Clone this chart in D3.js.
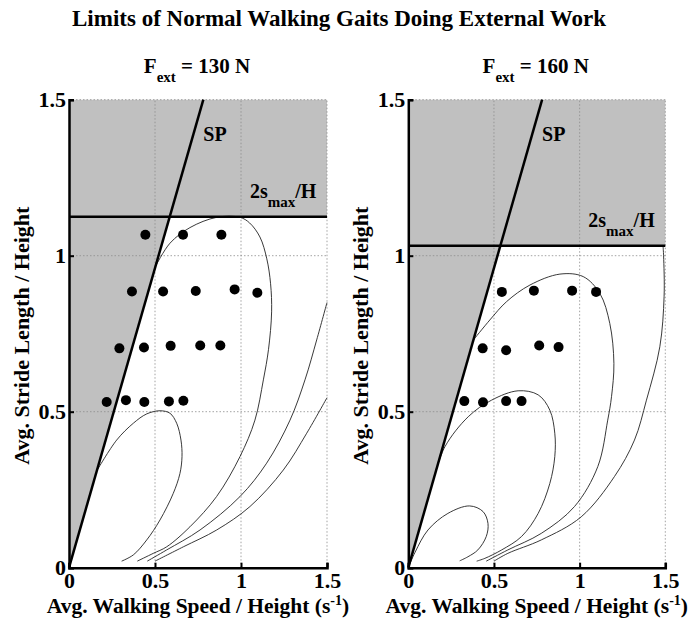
<!DOCTYPE html>
<html>
<head>
<meta charset="utf-8">
<script src="https://cdn.jsdelivr.net/npm/d3@7"></script>
<style>
  body { margin: 0; background: #fff; }
  svg { display: block; }
  text { font-family: "Liberation Serif", "Times New Roman", serif; font-weight: bold; fill: #000; }
</style>
</head>
<body>
<svg width="689" height="629"></svg>
<script>
// ---- data ----
var panels = ["130", "160"];
var tickVals = [0, 0.5, 1, 1.5];
var tickLabels = ["0", "0.5", "1", "1.5"];
var spTop = [0.781, 0.781];          // x where SP line hits 1.5
var smaxLevel = [1.125, 1.032];      // 2smax/H

var dotsLeft = [
  [0.444, 1.067], [0.663, 1.067], [0.886, 1.067],
  [0.366, 0.885], [0.547, 0.885], [0.737, 0.887], [0.963, 0.892], [1.095, 0.881],
  [0.293, 0.703], [0.436, 0.706], [0.591, 0.711], [0.763, 0.712], [0.880, 0.712],
  [0.219, 0.531], [0.331, 0.537], [0.438, 0.531], [0.581, 0.533], [0.665, 0.535]
];
var dotsRight = [
  [0.546, 0.884], [0.733, 0.888], [0.956, 0.888], [1.096, 0.884],
  [0.434, 0.703], [0.571, 0.697], [0.764, 0.712], [0.877, 0.707],
  [0.327, 0.534], [0.436, 0.530], [0.571, 0.534], [0.661, 0.534]
];

var curvesLeft = [
  [[0.306,0.021],[0.374,0.041],[0.452,0.089],[0.529,0.153],[0.606,0.238],[0.645,0.302],[0.657,0.356],
   [0.651,0.409],[0.626,0.463],[0.587,0.495],[0.529,0.503],[0.452,0.493],[0.374,0.463],[0.277,0.409],[0.161,0.31]],
  [[0.397,0.021],[0.49,0.046],[0.568,0.067],[0.703,0.131],[0.858,0.228],[0.994,0.356],[1.081,0.473],
   [1.13,0.602],[1.16,0.7],[1.178,0.82],[1.172,0.91],[1.15,0.99],[1.11,1.06],[1.05,1.105],[0.994,1.123],
   [0.859,1.123],[0.703,1.09],[0.587,1.04],[0.502,0.965]],
  [[0.455,0.021],[0.568,0.057],[0.762,0.121],[0.994,0.228],[1.149,0.335],[1.285,0.473],[1.372,0.602],
   [1.44,0.73],[1.5,0.85]],
  [[0.5,0.021],[0.665,0.067],[0.859,0.121],[1.052,0.196],[1.246,0.313],[1.382,0.431],[1.5,0.545]]
];
var curvesRight = [
  [[0.3,0.022],[0.348,0.035],[0.406,0.057],[0.455,0.1],[0.465,0.142],[0.436,0.18],[0.358,0.198],
   [0.231,0.174],[0.115,0.121],[0.04,0.05],[0,0]],
  [[0.399,0.021],[0.447,0.03],[0.545,0.057],[0.661,0.1],[0.758,0.174],[0.826,0.27],[0.855,0.356],
   [0.855,0.431],[0.826,0.505],[0.758,0.554],[0.641,0.567],[0.486,0.537],[0.35,0.484],[0.214,0.388],[0.156,0.3]],
  [[0.455,0.021],[0.581,0.057],[0.776,0.11],[0.97,0.196],[1.106,0.324],[1.164,0.473],[1.186,0.548],
   [1.2,0.655],[1.176,0.783],[1.118,0.879],[1.021,0.933],[0.885,0.941],[0.71,0.906],[0.574,0.853],
   [0.476,0.794],[0.38,0.73]],
  [[0.5,0.021],[0.581,0.046],[0.776,0.089],[1.009,0.163],[1.203,0.292],[1.32,0.409],[1.39,0.537],
   [1.468,0.708],[1.493,0.87],[1.49,1.0],[1.487,1.03]]
];

var svg = d3.select("svg");

svg.append("text").attr("x", 339).attr("y", 26).attr("text-anchor", "middle")
  .style("font-size", "23px").text("Limits of Normal Walking Gaits Doing External Work");

var layout = [
  { left: 69, width: 258, dots: dotsLeft, curves: curvesLeft },
  { left: 408.3, width: 257, dots: dotsRight, curves: curvesRight }
];
var plotTop = 99.7, plotH = 468;

layout.forEach(function (p, i) {
  var g = svg.append("g").attr("transform", "translate(" + p.left + "," + plotTop + ")");
  var x = d3.scaleLinear().domain([0, 1.5]).range([0, p.width]);
  var y = d3.scaleLinear().domain([0, 1.5]).range([plotH, 0]);
  var lv = smaxLevel[i], slope = 1.5 / spTop[i];

  // grey forbidden region
  var region = [[0, 0], [lv / slope, lv], [1.5, lv], [1.5, 1.5], [0, 1.5]];
  g.append("polygon")
    .attr("points", region.map(function (d) { return x(d[0]) + "," + y(d[1]); }).join(" "))
    .attr("fill", "#c0c0c0");

  // dotted grid
  [0.5, 1, 1.5].forEach(function (v) {
    g.append("line").attr("x1", x(v)).attr("x2", x(v)).attr("y1", y(0)).attr("y2", y(1.5))
      .attr("stroke", "#8c8c8c").attr("stroke-width", 0.8).attr("stroke-dasharray", "1.5,2");
    g.append("line").attr("x1", x(0)).attr("x2", x(1.5)).attr("y1", y(v)).attr("y2", y(v))
      .attr("stroke", "#8c8c8c").attr("stroke-width", 0.8).attr("stroke-dasharray", "1.5,2");
  });

  // contour curves
  var line = d3.line().x(function (d) { return x(d[0]); }).y(function (d) { return y(d[1]); })
    .curve(d3.curveCatmullRom.alpha(0.5));
  g.selectAll("path.curve").data(p.curves).enter().append("path").attr("class", "curve")
    .attr("d", line).attr("fill", "none").attr("stroke", "#222").attr("stroke-width", 0.9);

  // limit lines
  g.append("line").attr("x1", x(0)).attr("y1", y(lv)).attr("x2", x(1.5)).attr("y2", y(lv))
    .attr("stroke", "#000").attr("stroke-width", 2.5);
  g.append("line").attr("x1", x(0)).attr("y1", y(0)).attr("x2", x(spTop[i])).attr("y2", y(1.5))
    .attr("stroke", "#000").attr("stroke-width", 2.5);

  // data points
  g.selectAll("circle").data(p.dots).enter().append("circle")
    .attr("cx", function (d) { return x(d[0]); }).attr("cy", function (d) { return y(d[1]); })
    .attr("r", 5).attr("fill", "#000");

  // axes
  var xa = g.append("g").attr("transform", "translate(0," + plotH + ")")
    .call(d3.axisBottom(x).tickValues(tickVals).tickFormat(function (d, k) { return tickLabels[k]; })
      .tickSize(-5).tickPadding(5));
  var ya = g.append("g")
    .call(d3.axisLeft(y).tickValues(tickVals).tickFormat(function (d, k) { return tickLabels[k]; })
      .tickSize(-5).tickPadding(3));
  [xa, ya].forEach(function (a) {
    a.select(".domain").attr("stroke", "#000").attr("stroke-width", 2.5);
    a.selectAll(".tick line").attr("stroke", "#000").attr("stroke-width", 2);
    a.selectAll(".tick text").style("font-size", "22px").attr("font-family", null);
  });

  // labels in plot
  g.append("text").attr("x", x(spTop[i])).attr("y", y(1.5) + 41).style("font-size", "20px").text("SP");
  var sm = g.append("text").attr("x", p.width - 77).attr("y", y(lv) - 19).style("font-size", "20px");
  sm.append("tspan").text("2s");
  sm.append("tspan").attr("dy", 9).style("font-size", "15px").text("max");
  sm.append("tspan").attr("dy", -9).text("/H");

  // titles
  var t = g.append("text").attr("x", p.width / 2 - 1).attr("y", 73 - plotTop).attr("text-anchor", "middle")
    .style("font-size", "21px");
  t.append("tspan").text("F");
  t.append("tspan").attr("dy", 9).style("font-size", "15px").text("ext");
  t.append("tspan").attr("dy", -9).text(" = " + panels[i] + " N");

  var xl = g.append("text").attr("x", p.width / 2).attr("y", plotH + 45).attr("text-anchor", "middle")
    .style("font-size", "21.5px");
  xl.append("tspan").text("Avg. Walking Speed / Height (s");
  xl.append("tspan").attr("dy", -8).style("font-size", "14px").text("-1");
  xl.append("tspan").attr("dy", 8).text(")");

  g.append("text").attr("transform", "translate(-40," + (plotH / 2 + 2) + ") rotate(-90)")
    .attr("text-anchor", "middle").style("font-size", "22px").text("Avg. Stride Length / Height");
});
</script>
</body>
</html>
